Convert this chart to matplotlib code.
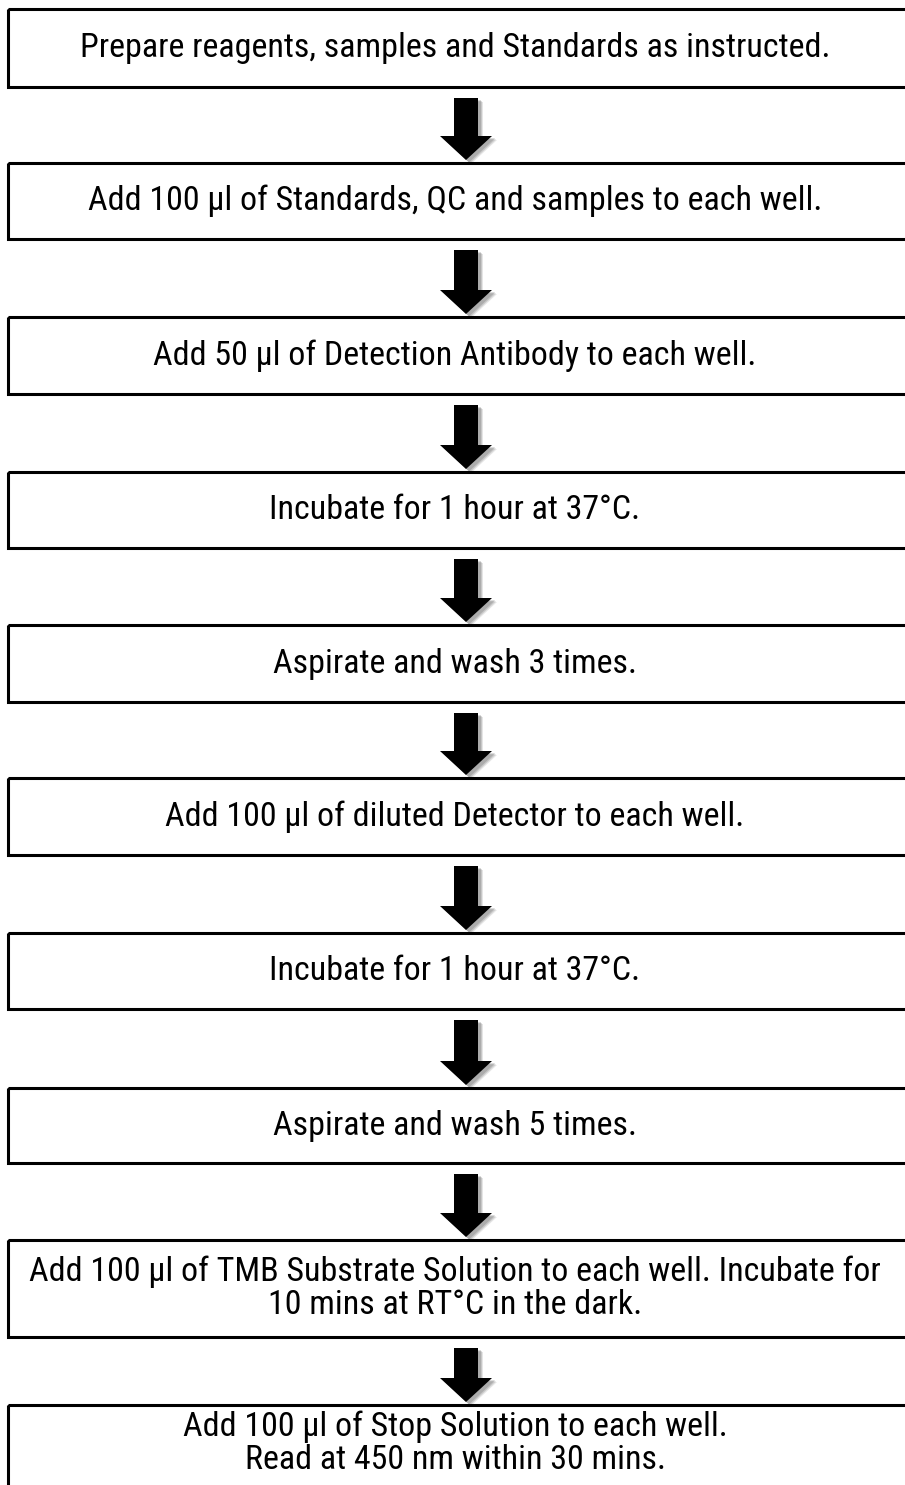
import matplotlib.pyplot as plt
from matplotlib.patches import Rectangle, Polygon
from matplotlib import font_manager

steps = [
    "Prepare reagents, samples and Standards as instructed.",
    "Add 100 \u00b5l of Standards, QC and samples to each well.",
    "Add 50 \u00b5l of Detection Antibody to each well.",
    "Incubate for 1 hour at 37\u00b0C.",
    "Aspirate and wash 3 times.",
    "Add 100 \u00b5l of diluted Detector to each well.",
    "Incubate for 1 hour at 37\u00b0C.",
    "Aspirate and wash 5 times.",
    "Add 100 \u00b5l of TMB Substrate Solution to each well. Incubate for\n10 mins at RT\u00b0C in the dark.",
    "Add 100 \u00b5l of Stop Solution to each well.\nRead at 450 nm within 30 mins.",
]

# box edges in pixels from the top
box_top = [9, 163, 317, 472, 625, 778, 933, 1088, 1240, 1405]
box_bot = [87, 239, 394, 548, 702, 855, 1009, 1163, 1337, 1500]

W, H = 905, 1485
installed = {f.name for f in font_manager.fontManager.ttflist}
cands = ['Liberation Sans Narrow', 'Arial Narrow', 'Roboto Condensed',
         'Liberation Sans']
fam = [f for f in cands if f in installed][:1] + ['DejaVu Sans']

fig = plt.figure(figsize=(W / 100, H / 100), dpi=100)
ax = fig.add_axes([0, 0, 1, 1])
ax.set_xlim(0, W)
ax.set_ylim(H, 0)
ax.axis('off')

left = 8
cx = 466  # arrow centre
for i, s in enumerate(steps):
    t, b = box_top[i], box_bot[i]
    ax.add_patch(Rectangle((left, t), W + 20 - left, b - t, fill=False,
                           edgecolor='black', linewidth=2.2, zorder=3))
    yc = (t + min(b, H)) / 2 if i < len(steps) - 1 else t + 38
    ax.text(455, yc, s, ha='center', va='center', fontsize=24.5,
            family=fam, linespacing=1.05, zorder=4)

    if i < len(steps) - 1:
        y0 = b + 11
        tip = box_top[i + 1] - 3
        yh = tip - 24
        pts = [(cx - 12, y0), (cx + 12, y0), (cx + 12, yh), (cx + 26, yh),
               (cx, tip), (cx - 26, yh), (cx - 12, yh)]
        # soft grey shadow
        for k, a in [(5, 0.25), (4, 0.4), (3, 0.6)]:
            sh = [(x + k, y + k * 0.8) for x, y in pts]
            ax.add_patch(Polygon(sh, closed=True, facecolor='#9a9a9a',
                                 edgecolor='none', alpha=a, zorder=1))
        ax.add_patch(Polygon(pts, closed=True, facecolor='black',
                             edgecolor='none', zorder=2))

fig.savefig('out.png', dpi=100, facecolor='white')
